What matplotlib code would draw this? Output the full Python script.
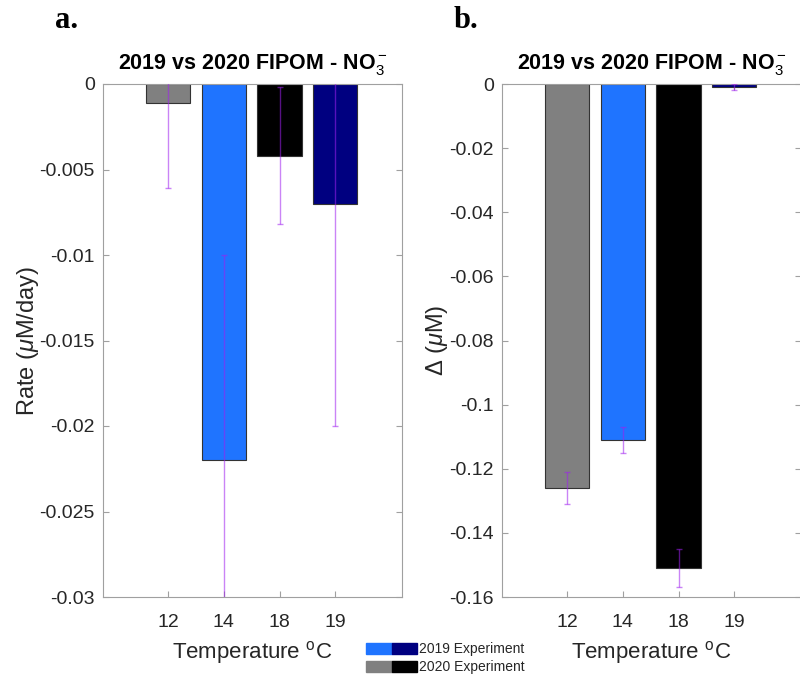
import numpy as np
import matplotlib
matplotlib.use("Agg")
import matplotlib.pyplot as plt
from matplotlib.patches import Patch
from matplotlib.legend_handler import HandlerTuple
from matplotlib.ticker import FuncFormatter

plt.rcParams['font.family'] = ['Liberation Sans', 'DejaVu Sans']
plt.rcParams['axes.unicode_minus'] = False
plt.rcParams['mathtext.fontset'] = 'custom'
plt.rcParams['mathtext.rm'] = 'Liberation Sans'
plt.rcParams['mathtext.it'] = 'Liberation Sans:italic'
plt.rcParams['mathtext.bf'] = 'Liberation Sans:bold'

# data
temps = ['12', '14', '18', '19']
bar_colors = ['#808080', '#1f74ff', '#000000', '#000080']   # 2020, 2019, 2020, 2019
rate = [-0.0011, -0.0220, -0.0042, -0.0070]
rate_err = [0.0050, 0.0120, 0.0040, 0.0130]
delta = [-0.126, -0.111, -0.151, -0.001]
delta_err = [0.005, 0.004, 0.006, 0.001]

spine_col = '#a0a0a0'
text_col = '#262626'
err_col = '#a020f0'

fig = plt.figure(figsize=(8, 6.8), dpi=100)
ax1 = fig.add_axes([103/800, 83/680, 299/800, 513/680])
ax2 = fig.add_axes([502/800, 83/680, 299/800, 513/680])


def fmt(v, p):
    v = round(v, 4) + 0.0
    return '0' if v == 0 else '{:g}'.format(v)


def draw_panel(ax, vals, errs, ylim, yticks, ylabel):
    x = np.arange(1, len(vals) + 1)
    ax.bar(x, vals, width=0.8, color=bar_colors, edgecolor='#333333', linewidth=0.8, zorder=2)
    ax.errorbar(x, vals, yerr=errs, fmt='none', ecolor=err_col, elinewidth=1,
                capsize=2.5, capthick=1, alpha=0.55, zorder=3)
    ax.set_xlim(-0.17, 5.2)
    ax.set_ylim(*ylim)
    ax.set_xticks(x)
    ax.set_xticklabels(temps)
    ax.set_yticks(yticks)
    ax.yaxis.set_major_formatter(FuncFormatter(fmt))
    ax.tick_params(direction='in', length=4, width=0.8, color=spine_col,
                   labelcolor=text_col, labelsize=14, top=True, right=True, pad=6)
    ax.tick_params(axis='x', pad=12)
    for s in ax.spines.values():
        s.set_color(spine_col)
        s.set_linewidth(0.8)
    ax.set_title('2019 vs 2020 FIPOM - NO$_3^-$', fontsize=15.5, fontweight='bold', pad=11)
    ax.set_xlabel('Temperature $^{\\mathrm{o}}$C', fontsize=16, color=text_col, labelpad=6)
    ax.set_ylabel(ylabel, fontsize=17, color=text_col, labelpad=-1)


draw_panel(ax1, rate, rate_err, (-0.03, 0), np.arange(-0.03, 0.0001, 0.005),
           'Rate ($\\mu$M/day)')
draw_panel(ax2, delta, delta_err, (-0.16, 0), np.arange(-0.16, 0.0001, 0.02),
           '$\\Delta$ ($\\mu$M)')

fig.text(55/800, 1 - 28/680, 'a.', family='Liberation Serif', fontweight='bold',
         fontsize=22, va='baseline')
fig.text(454/800, 1 - 28/680, 'b.', family='Liberation Serif', fontweight='bold',
         fontsize=22, va='baseline')

# legend: two-colour swatch per year
h2019 = (Patch(color=bar_colors[1]), Patch(color=bar_colors[3]))
h2020 = (Patch(color=bar_colors[0]), Patch(color=bar_colors[2]))
fig.legend([h2019, h2020], ['2019 Experiment', '2020 Experiment'],
           handler_map={tuple: HandlerTuple(ndivide=None, pad=0)},
           loc='upper left', bbox_to_anchor=(366/800, 1 - 642/680),
           frameon=False, fontsize=10, handlelength=3.7, handleheight=0.85,
           handletextpad=0.15, labelspacing=0.3, borderpad=0, borderaxespad=0,
           labelcolor=text_col)

fig.savefig('out.png', dpi=100)
